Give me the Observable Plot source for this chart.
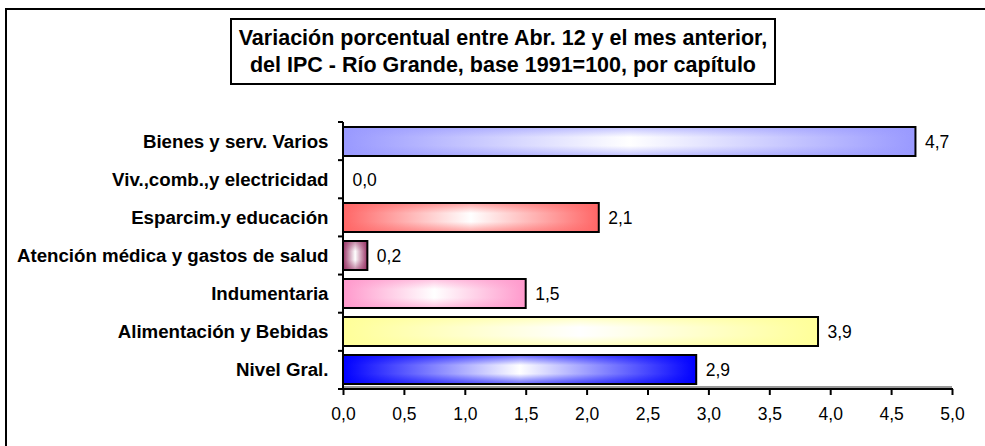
<!DOCTYPE html>
<html>
<head>
<meta charset="utf-8">
<script src="https://cdn.jsdelivr.net/npm/d3@7"></script>
<script src="https://cdn.jsdelivr.net/npm/@observablehq/plot@0.6"></script>
<style>
  html, body { margin: 0; padding: 0; background: #fff; overflow: hidden; }
  #wrap { position: relative; width: 985px; height: 446px; overflow: hidden; font-family: "Liberation Sans", Arial, sans-serif; }
  #frame { position: absolute; left: 5px; top: 8px; width: 1200px; height: 600px; border-top: 2px solid #000; border-left: 2px solid #000; }
  #title { position: absolute; left: 230px; top: 18px; width: 546px; height: 67px; box-sizing: border-box; border: 2px solid #000; background: #fff;
           display: flex; align-items: center; justify-content: center; text-align: center; font-weight: bold; font-size: 21.5px; line-height: 27px; color: #000; }
  #chart { position: absolute; left: 0; top: 0; }
  #chart svg text { font-family: "Liberation Sans", Arial, sans-serif; fill: #000; }
  #chart svg [aria-label^="y-axis"] text { font-weight: bold; font-size: 18.7px; }
  #chart svg [aria-label^="x-axis"] text { font-size: 17.5px; }
  #chart svg [aria-label^="x-axis"] line, #chart svg [aria-label^="x-axis"] path { stroke: #000; stroke-width: 2px; }
</style>
</head>
<body>
<div id="wrap">
  <div id="frame"></div>
  <div id="chart"></div>
  <div id="title">Variación porcentual entre Abr. 12 y el mes anterior,<br>del IPC - Río Grande, base 1991=100, por capítulo</div>
</div>
<script>
const categories = ["Bienes y serv. Varios", "Viv.,comb.,y electricidad", "Esparcim.y educación", "Atención médica y gastos de salud", "Indumentaria", "Alimentación y Bebidas", "Nivel Gral."];
const values = [4.7, 0.0, 2.1, 0.2, 1.5, 3.9, 2.9];
const colors = ["#9999FF", "#FFFFFF", "#FF6666", "#993366", "#FF99CC", "#FFFF99", "#0000FF"];
const xTicks = [0, 0.5, 1, 1.5, 2, 2.5, 3, 3.5, 4, 4.5, 5];

const data = categories.map((c, i) => ({cat: c, value: values[i], idx: i}));
const fmt = v => v.toFixed(1).replace(".", ",");
const ns = "http://www.w3.org/2000/svg";

function axesMark(index, scales, values, dims) {
  const g = document.createElementNS(ns, "g");
  g.setAttribute("aria-label", "frame-lines");
  const x = scales.x;
  const x0 = x(0), x1 = x(5);
  const top = dims.marginTop, bottom = dims.height - dims.marginBottom;
  const n = categories.length;
  const step = (bottom - top) / n;
  const add = (a, b, c, d) => {
    const l = document.createElementNS(ns, "line");
    l.setAttribute("x1", a); l.setAttribute("y1", b); l.setAttribute("x2", c); l.setAttribute("y2", d);
    l.setAttribute("stroke", "#000"); l.setAttribute("stroke-width", 2);
    g.appendChild(l);
  };
  const sh = document.createElementNS(ns, "line");
  sh.setAttribute("x1", x0); sh.setAttribute("x2", x1); sh.setAttribute("y1", bottom - 2); sh.setAttribute("y2", bottom - 2);
  sh.setAttribute("stroke", "#999"); sh.setAttribute("stroke-width", 2);
  g.appendChild(sh);
  add(x0, top, x0, bottom);
  add(x0 - 5, bottom, x1 + 1, bottom);
  for (let k = 0; k <= n; k++) add(x0 - 5, top + k * step, x0, top + k * step);
  return g;
}

const chart = Plot.plot({
  width: 985,
  height: 446,
  marginLeft: 343,
  marginRight: 33,
  marginTop: 122,
  marginBottom: 57,
  style: {background: "transparent", fontFamily: "'Liberation Sans', Arial, sans-serif", fontSize: "17px", color: "#000", overflow: "visible"},
  x: {domain: [0, 5], ticks: xTicks, tickFormat: fmt, tickSize: 6, tickPadding: 12, label: null},
  y: {domain: categories, paddingInner: 0.24, paddingOuter: 0.12, tickSize: 0, tickPadding: 15, label: null},
  color: {type: "identity"},
  marks: [
    Plot.barX(data.filter(d => d.value > 0), {x: "value", y: "cat", fill: d => `url(#gh${d.idx})`}),
    Plot.barX(data.filter(d => d.value > 0), {x: "value", y: "cat", fill: d => `url(#gv${d.idx})`, stroke: "#000", strokeWidth: 2}),
    axesMark,
    Plot.text(data, {x: "value", y: "cat", text: d => fmt(d.value), textAnchor: "start", dx: 9, fontSize: 17.5})
  ]
});

const defs = document.createElementNS(ns, "defs");
colors.forEach((c, i) => {
  const h = document.createElementNS(ns, "linearGradient");
  h.setAttribute("id", `gh${i}`);
  h.setAttribute("x1", "0"); h.setAttribute("x2", "1"); h.setAttribute("y1", "0"); h.setAttribute("y2", "0");
  [[0, c, 1], [0.5, "#FFFFFF", 1], [1, c, 1]].forEach(([o, col, op]) => {
    const s = document.createElementNS(ns, "stop");
    s.setAttribute("offset", o); s.setAttribute("stop-color", col); s.setAttribute("stop-opacity", op);
    h.appendChild(s);
  });
  defs.appendChild(h);
  const v = document.createElementNS(ns, "linearGradient");
  v.setAttribute("id", `gv${i}`);
  v.setAttribute("x1", "0"); v.setAttribute("x2", "0"); v.setAttribute("y1", "0"); v.setAttribute("y2", "1");
  [[0, c, 0.6], [0.35, c, 0], [0.65, c, 0], [1, c, 0.6]].forEach(([o, col, op]) => {
    const s = document.createElementNS(ns, "stop");
    s.setAttribute("offset", o); s.setAttribute("stop-color", col); s.setAttribute("stop-opacity", op);
    v.appendChild(s);
  });
  defs.appendChild(v);
});
chart.insertBefore(defs, chart.firstChild);
document.getElementById("chart").appendChild(chart);
</script>
</body>
</html>
